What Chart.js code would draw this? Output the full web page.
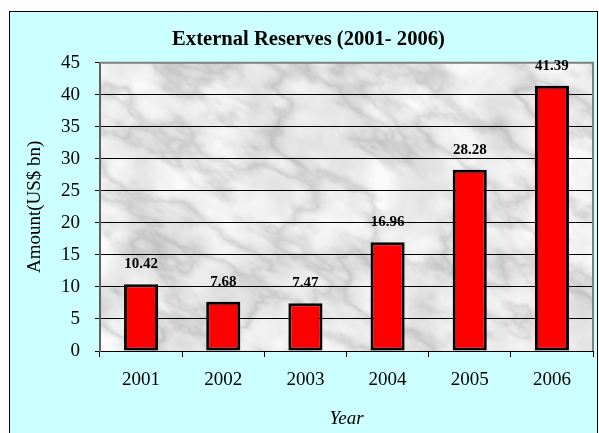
<!DOCTYPE html>
<html>
<head>
<meta charset="utf-8">
<script src="https://cdn.jsdelivr.net/npm/chart.js@4.4.1/dist/chart.umd.min.js"></script>
<style>
  html, body { margin: 0; padding: 0; background: #fff; }
  canvas { display: block; }
</style>
</head>
<body>
<canvas id="myChart" width="599" height="433"></canvas>
<script>
const years = ['2001', '2002', '2003', '2004', '2005', '2006'];
const reserves = [10.42, 7.68, 7.47, 16.96, 28.28, 41.39];
const yTicks = [0, 5, 10, 15, 20, 25, 30, 35, 40, 45];

const serif = "'Liberation Serif', 'Times New Roman', serif";

// deterministic value noise for the grey marble backdrop
function hash(x, y) {
    let h = x * 374761393 + y * 668265263;
    h = (h ^ (h >> 13)) * 1274126177;
    h = h ^ (h >> 16);
    return (h & 0xffff) / 0xffff;
}
function smooth(t) { return t * t * (3 - 2 * t); }
function noise(x, y) {
    const xi = Math.floor(x), yi = Math.floor(y);
    const xf = x - xi, yf = y - yi;
    const a = hash(xi, yi), b = hash(xi + 1, yi);
    const c = hash(xi, yi + 1), d = hash(xi + 1, yi + 1);
    const u = smooth(xf), v = smooth(yf);
    return a + (b - a) * u + (c - a) * v + (a - b - c + d) * u * v;
}
function fbm(x, y) {
    let s = 0, amp = 0.5, f = 1;
    for (let i = 0; i < 5; i++) {
        s += amp * noise(x * f, y * f);
        f *= 2; amp *= 0.5;
    }
    return s;
}

let marble = null;
function makeMarble(w, h) {
    const c = document.createElement('canvas');
    c.width = w; c.height = h;
    const g = c.getContext('2d');
    const img = g.createImageData(w, h);
    const ca = Math.cos(0.5), sa = Math.sin(0.5);
    for (let y = 0; y < h; y++) {
        for (let x = 0; x < w; x++) {
            const along = x * ca + y * sa;
            const across = -x * sa + y * ca;
            const cloud = fbm(x / 40 + 7, y / 40 + 3);
            const n2 = fbm(along / 70 + 11, across / 35 + 5);
            const vein = Math.max(0, 1 - Math.abs(n2 - 0.5) * 6);
            let v = 238 - (cloud - 0.45) * 55 - vein * vein * 30;
            v = Math.max(170, Math.min(250, v));
            const i = (y * w + x) * 4;
            img.data[i] = img.data[i + 1] = img.data[i + 2] = v;
            img.data[i + 3] = 255;
        }
    }
    g.putImageData(img, 0, 0);
    return c;
}

const framePlugin = {
    id: 'frame',
    beforeDraw(chart) {
        const ctx = chart.ctx;
        const a = chart.chartArea;
        ctx.save();
        ctx.fillStyle = '#ffffff';
        ctx.fillRect(0, 0, chart.width, chart.height);
        ctx.fillStyle = '#ccffff';
        ctx.fillRect(9.5, 11.5, chart.width - 11, chart.height);
        ctx.strokeStyle = '#000';
        ctx.lineWidth = 1;
        ctx.strokeRect(9.5, 11.5, chart.width - 11, chart.height);
        if (!marble) marble = makeMarble(Math.round(a.right - a.left), Math.round(a.bottom - a.top));
        ctx.drawImage(marble, a.left, a.top, a.right - a.left, a.bottom - a.top);
        ctx.restore();
    },
    afterDatasetsDraw(chart) {
        const ctx = chart.ctx;
        const a = chart.chartArea;
        ctx.save();
        ctx.strokeStyle = '#808080';
        ctx.lineWidth = 2;
        ctx.beginPath();
        ctx.moveTo(a.left, a.top);
        ctx.lineTo(a.right, a.top);
        ctx.lineTo(a.right, a.bottom);
        ctx.stroke();
        // value labels above the bars
        ctx.fillStyle = '#000';
        ctx.font = 'bold 15px ' + serif;
        ctx.textAlign = 'center';
        ctx.textBaseline = 'middle';
        chart.getDatasetMeta(0).data.forEach((bar, i) => {
            ctx.fillText(reserves[i].toFixed(2), bar.x, bar.y - 20);
        });
        ctx.restore();
    }
};

const chart = document.getElementById('myChart');
const myChart = new Chart(chart, {
    type: 'bar',
    data: {
        labels: years,
        datasets: [{
            data: reserves,
            backgroundColor: '#ff0000',
            borderColor: '#000',
            borderWidth: 3,
            borderSkipped: false,
            barPercentage: 0.415,
            categoryPercentage: 1
        }]
    },
    options: {
        responsive: false,
        animation: false,
        layout: { padding: { left: 24, right: 6, top: 0, bottom: 0 } },
        plugins: {
            legend: { display: false },
            tooltip: { enabled: false },
            title: {
                display: true,
                text: 'External Reserves (2001- 2006)',
                color: '#000',
                font: { family: serif, size: 20.6, weight: 'bold' },
                padding: { top: 27, bottom: 11 }
            }
        },
        scales: {
            x: {
                grid: {
                    offset: true,
                    drawOnChartArea: false,
                    drawTicks: true,
                    tickLength: 6,
                    color: '#000'
                },
                border: { color: '#000', width: 1 },
                ticks: {
                    color: '#000',
                    padding: 12,
                    font: { family: serif, size: 19 }
                },
                title: {
                    display: true,
                    text: 'Year',
                    color: '#000',
                    font: { family: serif, size: 19, style: 'italic' },
                    padding: { top: 0, bottom: 3 }
                },
                afterFit(scale) { scale.height = 82; }
            },
            y: {
                min: 0,
                max: 45,
                afterBuildTicks(scale) {
                    scale.ticks = yTicks.map(v => ({ value: v }));
                },
                grid: {
                    color: '#000',
                    lineWidth: 1,
                    drawTicks: true,
                    tickLength: 5
                },
                border: { color: '#606060', width: 2 },
                ticks: {
                    color: '#000',
                    padding: 15,
                    font: { family: serif, size: 19 }
                },
                title: {
                    display: true,
                    text: 'Amount(US$ bn)',
                    color: '#000',
                    font: { family: serif, size: 19 },
                    padding: { top: 0, bottom: 0 }
                },
                afterFit(scale) { scale.width = 76; }
            }
        }
    },
    plugins: [framePlugin]
});
</script>
</body>
</html>
